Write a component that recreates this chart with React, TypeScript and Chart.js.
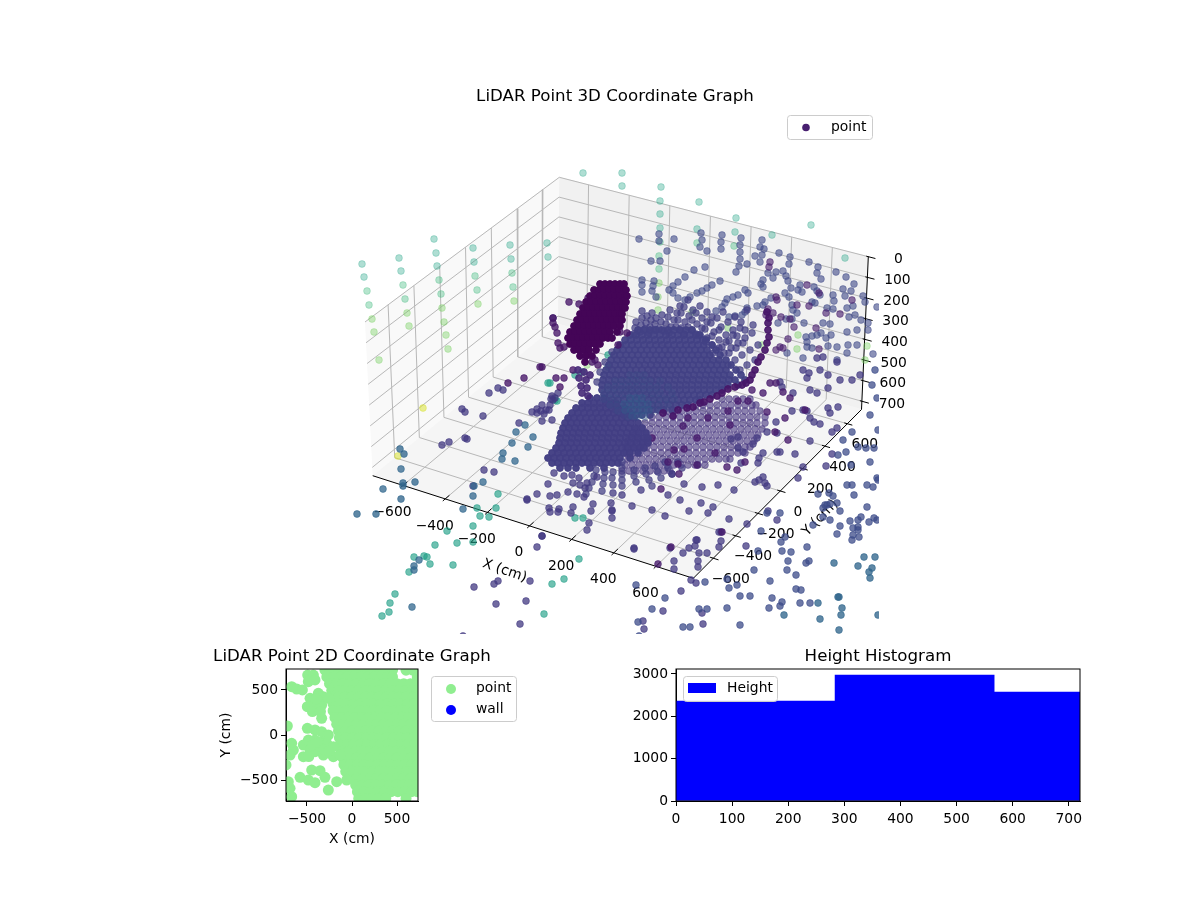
// App.tsx - LiDAR point graphs: 3D view, 2D plan and height histogram
import React, { useEffect, useRef } from 'react';
import { Chart, registerables } from 'chart.js';

Chart.register(...registerables);
Chart.defaults.font.family = '"DejaVu Sans", sans-serif';
Chart.defaults.color = '#000';

const TICK_FONT = 13.89;
const TITLE_FONT = 16.67;

// 3D axes, in cm
const xTicks3d = [-600, -400, -200, 0, 200, 400, 600];
const yTicks3d = [-600, -400, -200, 0, 200, 400, 600];
const hTicks3d = [0, 100, 200, 300, 400, 500, 600, 700];
const xRange3d = [-744, 777];
const yRange3d = [-779, 727];
const hRange3d = [0, 740];

// the box corners on the view plane, which is what the 3D chart's two scales measure
const topLeftBack = [365, 322];
const topBack = [559.3, 177.3];
const topRight = [868.3, 256.7];
const topFront = [674, 401];
const floorLeft = [372.7, 475.7];
const floorBack = [558, 324];
const floorRight = [861.5, 409.5];
const floorFront = [693.3, 578.3];

const wallTeal = [583,173, 622,173, 622,186, 661,187, 660,201, 660,214, 699,202, 736,218, 772,235, 811,225, 845,258,
  362,264, 364,277, 399,258, 401,271, 434,239, 436,253, 437,266, 473,248, 474,262, 510,245, 511,259, 547,243, 548,257, 660,228, 697,229, 735,232];
const wallGreen = [367,291, 369,305, 403,285, 405,299, 439,280, 441,294, 475,276, 477,290, 512,273, 513,287, 660,242, 659,256, 659,269, 697,243, 734,246];
const wallLime = [372,319, 374,332, 407,313, 409,326, 442,308, 444,322, 446,335, 448,349, 478,304, 514,301, 379,360,
  659,283, 658,297, 658,310, 692,312, 728,328, 798,335, 797,349, 867,346, 865,360, 762,345, 587,365];
const wallYellow = [423,408, 398,456];

const farSlate = [639,239, 659,234, 659,241, 674,239, 667,251, 651,261, 660,261, 701,233, 702,240, 700,247, 707,251,
  722,235, 721,242, 721,249, 741,238, 740,245, 740,252, 740,259, 739,266, 736,272, 747,264, 762,240, 760,247, 764,249, 762,255, 755,256, 760,262,
  779,253, 790,257, 789,264, 768,273, 773,278, 776,272, 783,271, 786,276, 788,281, 809,262, 818,267, 817,273, 821,279, 836,272, 846,277, 854,284, 843,289, 851,291,
  694,270, 705,267, 720,281, 685,277, 678,282, 673,286, 669,290, 712,285, 707,288, 702,291, 697,293, 690,297, 685,300, 678,298, 673,293,
  642,280, 642,285, 642,292, 654,281, 653,286, 652,291, 656,297, 745,290, 748,293, 738,295, 733,297, 727,299, 725,303, 722,307, 716,311, 761,284, 763,280, 763,287,
  800,285, 814,287, 817,291, 820,295, 802,292, 798,290, 791,288, 785,293, 789,297, 771,298, 765,302, 757,306, 763,305, 747,308, 745,312, 742,315, 735,316, 729,317,
  792,305, 793,310, 797,313, 812,302, 815,303, 827,308, 833,309, 833,295, 834,301, 845,296, 847,308, 853,306, 863,296, 865,302, 877,307, 855,315, 861,320, 868,323, 868,330, 849,317, 830,324, 823,323,
  804,323, 792,319, 786,319, 778,323, 847,332, 857,330, 817,335, 821,333, 812,336, 806,337, 807,342, 826,338, 831,335, 828,346, 837,347, 848,345, 847,353, 857,345, 873,354, 812,348, 807,347, 787,353, 803,358, 837,360];
const farPurple = [776,297, 777,300, 768,309, 773,313, 766,315, 790,319, 781,317, 794,327, 816,328, 797,305, 809,306, 819,349, 788,339, 780,347, 783,348, 776,350, 826,313, 840,314, 852,300, 819,293, 807,285, 770,262, 769,267];

const blobRows = [
  [284, 600,605,610,615,620,624], [290, 594,599,604,609,614,619,624,626], [296, 590,595,600,605,610,615,620,625,627], [302, 586,591,596,601,606,611,616,621,626],
  [308, 583,588,593,598,603,608,613,618,623,625], [314, 580,585,590,595,600,605,610,615,620,622], [320, 577,582,587,592,597,602,607,612,617,622], [326, 574,579,584,589,594,599,604,609,614,620],
  [332, 570,575,580,585,590,595,600,605,610,617], [338, 568,573,578,583,588,593,598,603,608,612], [344, 570,575,580,585,590,595,600], [350, 574,579,584,589,596], [356, 580,586,592], [362, 585],
];
const blobEdge = [569,302, 579,304, 588,298, 553,318, 553,323, 555,327, 557,333, 558,343, 560,348, 564,347, 620,332, 627,333, 618,345, 598,365, 595,360, 592,362, 573,370, 564,378, 556,378, 560,387, 542,367, 540,367, 524,378, 508,383];
const ridge = [767,312, 769,318, 768,323, 768,330, 769,337, 767,343, 765,350, 761,357, 758,362, 755,370, 752,375, 750,380, 746,383, 742,385, 735,387, 728,389, 722,393, 717,396, 710,399, 704,402, 700,403, 693,407, 687,408, 678,410, 673,416, 663,413];
const stem = [578,370, 584,372, 590,375, 579,378, 586,380, 581,386, 587,388, 582,393, 588,396];

const lowerFanRows = [
  [399, 722,729,736,743,750],
  [405, 696,703,710,717,724,731,738,745,752,756],
  [411, 668,675,682,689,696,703,710,717,724,731,738,745,752,760],
  [417, 652,659,666,673,680,687,694,701,708,715,722,729,736,743,750,757,765],
  [423, 645,652,659,666,673,680,687,694,701,708,715,722,729,736,743,750,757,765],
  [429, 636,643,650,657,664,671,678,685,692,699,706,713,720,727,734,741,748,755,762],
  [435, 632,639,646,653,660,667,674,681,688,695,702,709,716,723,730,737,744,751,758],
  [441, 628,635,642,649,656,663,670,677,684,691,698,705,712,719,726,733,740,747,754],
  [447, 626,633,640,647,654,661,668,675,682,689,696,703,710,717,724,731,738,745,750],
  [453, 626,633,640,647,654,661,668,675,682,689,696,703,710,717,724,731,738,745],
  [459, 628,635,642,649,656,663,670,677,684,691,698,705,712,719,726,730],
  [465, 625,632,639,646,653,660,667,674,681,688,695,705],
  [471, 622,629,636,643,650,657,664,670],
];
const mainFanRows = [
  [330, 638,644,650,656,662,668,674,680,686,692],
  [335, 630,636,642,648,654,660,666,672,678,684,690,696,700],
  [340, 625,631,637,643,649,655,661,667,673,679,685,691,697,703,706],
  [345, 620,626,632,638,644,650,656,662,668,674,680,686,692,698,704,712],
  [350, 617,623,629,635,641,647,653,659,665,671,677,683,689,695,701,707,716],
  [355, 614,620,626,632,638,644,650,656,662,668,674,680,686,692,698,704,710,720],
  [360, 611,617,623,629,635,641,647,653,659,665,671,677,683,689,695,701,707,713,719,726],
  [365, 609,615,621,627,633,639,645,651,657,663,669,675,681,687,693,699,705,711,717,723,731],
  [370, 606,612,618,624,630,636,642,648,654,660,666,672,678,684,690,696,702,708,714,720,726,736],
  [375, 604,610,616,622,628,634,640,646,652,658,664,670,676,682,688,694,700,706,712,718,724,730,741],
  [380, 603,609,615,621,627,633,639,645,651,657,663,669,675,681,687,693,699,705,711,717,723,729,735,745],
  [385, 602,608,614,620,626,632,638,644,650,656,662,668,674,680,686,692,698,704,710,716,722,728,738],
  [390, 602,608,614,620,626,632,638,644,650,656,662,668,674,680,686,692,698,704,710,716,722],
  [395, 604,610,616,622,628,634,640,646,652,658,664,670,676,682,688,694,700,706,712],
  [400, 606,612,618,624,630,636,642,648,654,660,666,672,678,684,690,696,700],
  [405, 610,616,622,628,634,640,646,652,658,664,670,676,682,688],
  [410, 616,622,628,634,640,646,652,658,664,672],
  [415, 624,630,636,642,650],
];
const coreOuterRows = [
  [375, 630,637,644], [381, 615,622,629,636,643,650,660], [387, 608,615,622,629,636,643,650,657,668], [393, 604,611,618,625,632,639,646,653,660,672],
  [399, 603,610,617,624,631,638,645,652,659,666,674], [405, 610,617,624,631,638,645,652,659,668], [411, 618,625,632,639,646,653,660], [417, 628,636,645],
];
const coreInnerRows = [
  [398, 630,636,642], [404, 624,630,636,642,648], [410, 625,631,637,643,649], [416, 632,638,644],
];
const secondFanRows = [
  [398, 590,597,604],
  [403, 582,588,594,600,606,612,616],
  [408, 576,582,588,594,600,606,612,618,624],
  [413, 572,578,584,590,596,602,608,614,620,626,630],
  [418, 568,574,580,586,592,598,604,610,616,622,628,634],
  [423, 565,571,577,583,589,595,601,607,613,619,625,631,638],
  [428, 563,569,575,581,587,593,599,605,611,617,623,629,635,642],
  [433, 561,567,573,579,585,591,597,603,609,615,621,627,633,639,646],
  [438, 560,566,572,578,584,590,596,602,608,614,620,626,632,638,644,648],
  [443, 559,565,571,577,583,589,595,601,607,613,619,625,631,637,643,648],
  [448, 556,562,568,574,580,586,592,598,604,610,616,622,628,634,640,644],
  [453, 552,558,564,570,576,582,588,594,600,606,612,618,624,630,638],
  [458, 548,554,560,566,572,578,584,590,596,602,608,614,620,630],
  [463, 552,558,564,570,576,582,588,594,600,606,612,618],
  [468, 560,568,576,590,604],
];
const fanFingers = [642,311, 642,318, 641,325, 640,332, 652,313, 651,320, 650,327, 649,333, 662,315, 661,322, 659,329,
  670,310, 668,317, 666,324, 664,331, 680,306, 677,313, 674,320, 671,327, 669,333, 688,300, 684,307, 681,313, 678,320, 676,327,
  700,306, 696,313, 692,320, 688,327, 684,334, 707,312, 702,318, 697,324, 692,330, 723,312, 717,318, 711,323, 705,329, 699,335,
  735,317, 728,322, 721,327, 714,332, 707,338, 747,310, 741,322, 733,330, 726,335, 719,340, 712,345, 753,325, 745,330, 737,336, 729,341, 722,347, 743,343, 736,348, 729,353,
  636,322, 635,328, 634,334, 647,316, 646,323, 645,329, 656,318, 655,324, 654,330, 693,310, 689,316, 685,322, 681,328, 712,317, 707,322, 702,328, 696,334, 719,330, 712,336, 706,342,
  740,328, 733,335, 726,342, 719,348, 713,353, 752,333, 745,338, 738,343, 731,348, 724,353, 758,345, 750,350, 742,355, 735,360, 728,365, 755,360, 747,365, 740,370,
  612,352, 605,362, 600,372, 597,382, 596,470, 594,476, 592,482, 589,488, 586,494, 605,472, 604,478, 603,484, 602,491, 613,472, 612,478, 613,485, 622,462, 622,468, 622,474, 622,480, 622,486,
  634,470, 634,476, 636,482, 645,468, 646,474, 649,480, 652,486, 655,466, 658,472, 661,478, 665,462, 668,468, 672,474, 678,462, 682,468];

const floorIndigo = [498,388, 503,390, 489,393, 462,409, 465,412, 483,416, 519,423, 465,438, 467,439, 449,442, 442,445, 484,470, 494,472, 473,486,
  532,412, 537,413, 541,411, 546,410, 550,405, 553,400, 555,398, 549,410, 544,414, 537,409, 552,396, 558,393, 551,399, 542,405, 542,421, 552,420,
  553,318, 527,499, 537,494, 550,496, 557,495, 548,484, 577,494, 584,497, 580,485, 587,483, 597,477, 564,476, 554,473, 572,475, 579,478, 585,488, 568,492, 573,483,
  549,508, 559,509, 550,512, 558,512, 571,513, 573,507, 612,511, 612,518, 593,504, 611,503, 527,500, 589,523, 587,530, 591,511, 542,536, 537,547,
  632,506, 652,510, 665,516, 689,511, 708,513, 713,507, 701,503, 680,500, 668,495, 641,490, 622,495, 613,493, 612,510, 684,484, 702,487, 718,485, 734,490, 721,532, 729,519, 747,524, 670,548, 696,540, 634,548,
  755,482, 759,480, 765,483, 767,486, 763,477, 741,463, 759,458, 758,463, 698,465, 672,474, 777,452, 780,452, 763,453, 795,454, 810,441, 753,444, 743,452, 738,448, 731,439, 738,437, 757,438,
  767,432, 777,433, 776,422, 810,418, 814,422, 820,424, 832,432, 837,428, 792,411, 803,410, 807,411, 828,408, 838,407, 830,413,
  837,362, 820,370, 817,358, 823,357, 803,370, 809,373, 840,380, 828,375, 852,380, 860,375, 817,393, 810,390, 828,388, 793,393, 782,387, 780,382, 807,378,
  798,478, 803,467, 826,466, 832,454,
  683,553, 689,548, 695,546, 697,540, 699,553, 707,553, 698,561, 698,567, 674,561, 674,569, 634,549, 719,532, 721,541, 719,547, 768,511, 777,520, 746,546, 681,591, 691,580, 696,583,
  474,587, 494,584, 498,581, 530,581, 526,601, 496,604, 520,624, 463,636, 542,536, 663,611, 644,629, 643,621, 702,613, 703,624];
const floorDark = [790,398, 805,410, 783,392, 785,418, 775,432, 788,440, 730,425, 697,438, 652,438, 737,470, 715,453, 674,450, 684,449, 668,462, 678,464, 697,465, 727,467, 679,474, 661,489, 745,462,
  738,401, 748,401, 728,411, 708,418, 688,418, 683,426, 767,412, 763,393, 752,390, 671,547, 658,564, 722,532, 776,383, 770,383];
const outsideBlue = [636,585, 665,598, 652,609, 699,609, 707,609, 727,608, 638,622, 683,627, 690,627, 740,625, 639,636, 705,582, 727,579, 729,588, 737,585, 740,596, 750,596, 754,570, 770,581,
  761,531, 785,537, 781,542, 782,551, 758,551, 791,552, 807,547, 788,561, 809,561, 806,563, 787,570, 796,575, 772,598, 782,602, 780,606, 769,608, 796,589, 801,590, 800,603, 810,603,
  847,485, 852,485, 867,485, 829,493, 833,496, 818,494, 854,495, 837,503, 827,505, 823,508, 780,513, 767,513, 837,534, 859,537, 850,521, 858,520, 869,522, 877,520, 867,507, 858,530, 853,535, 878,480, 873,487,
  875,370, 872,385, 877,398, 870,415, 878,430, 874,448, 870,462, 877,478, 866,448, 852,432, 843,440, 858,447, 838,455, 846,452, 851,465,
  825,505, 830,504, 840,511, 830,520, 823,517, 813,525, 840,526, 853,528, 858,527, 861,517, 852,540, 874,518];
const steelBlue = [818,603, 784,615, 820,619, 838,597, 839,597, 842,608, 841,615, 839,630, 858,566, 870,578, 872,568, 869,572, 875,557, 864,557, 834,563, 878,615, 357,514, 376,514, 403,483, 403,486, 401,499, 415,482, 404,454, 400,449];
const leftBlue = [463,509, 512,443, 516,432, 533,437, 528,447, 503,453, 502,459, 515,461, 474,486, 483,482, 401,469, 473,496, 383,489, 525,425, 419,560, 414,566, 414,570, 412,607];
const leftTeal = [477,508, 496,508, 480,516, 489,517, 473,526, 447,531, 435,545, 457,543, 473,542, 414,557, 424,556, 427,557, 409,572, 430,564, 453,565, 395,594, 390,603, 389,612, 382,616,
  552,584, 564,579, 544,614, 579,559, 575,518, 583,518, 498,494, 575,375, 582,372, 608,355, 608,367, 548,383, 555,400, 550,383, 557,401];

// 2D plan, in cm
const planTicks = [-500, 0, 500];
const planRange = [-733, 733];
const planEdge = [-492,666, -429,666, -485,592, -411,611, -670,537, -614,511, -551,500, -466,407, -374,463, -318,426, -411,333, -496,315, -337,333, -337,185, -263,407,
  -718,100, -496,74, -411,56, -337,37, -263,0, -670,-93, -651,-167, -688,-222, -540,-111, -485,-56, -411,-56, -337,-74, -540,-241, -466,-167, -374,-130, -281,-93, -207,-130, -207,-241, -133,-222, -318,-222, -411,-185,
  -448,-389, -355,-396, -577,-470, -485,-500, -411,-529, -300,-470, -263,-611, -170,-518, -59,-500, -733,-333, -707,-518, -688,-592, -670,-685,
  -440,-110, -380,-80, -310,-160, -260,-180, -480,-240, -450,380, -400,400, -440,260, -350,260];
const planRows = [
  [720, -300,-225,-150,-75,0,75,150,225,300,375,450,600,675],
  [645, -280,-205,-130,-55,20,95,170,245,320,395,450,725],
  [570, -250,-175,-100,-25,50,125,200,275,350,425,500,575,650,725],
  [495, -225,-150,-75,0,75,150,225,300,375,450,525,600,675,725],
  [420, -225,-150,-75,0,75,150,225,300,375,450,525,600,675,725],
  [345, -210,-135,-60,15,90,165,240,315,390,465,540,615,690],
  [270, -210,-135,-60,15,90,165,240,315,390,465,540,615,690],
  [195, -190,-115,-40,35,110,185,260,335,410,485,560,635,710],
  [120, -170,-95,-20,55,130,205,280,355,430,505,580,655,725],
  [45, -150,-75,0,75,150,225,300,375,450,525,600,675,725],
  [-30, -140,-65,10,85,160,235,310,385,460,535,610,685],
  [-105, -130,-55,20,95,170,245,320,395,470,545,620,695],
  [-180, -110,-35,40,115,190,265,340,415,490,565,640,715],
  [-255, -100,-25,50,125,200,275,350,425,500,575,650,725],
  [-330, -90,-15,60,135,210,285,360,435,510,585,660,725],
  [-405, -70,5,80,155,230,305,380,455,530,605,680,725],
  [-480, -20,55,130,205,280,355,430,505,580,655,725],
  [-555, 40,115,190,265,340,415,490,565,640,715],
  [-630, 60,135,210,285,360,435,510,585,660,725],
  [-705, 75,150,225,300,375,600],
];

// histogram
const binEdges = [0, 283.5, 567, 850.5];
const binCounts = [2362, 2976, 2575];
const histXTicks = [0, 100, 200, 300, 400, 500, 600, 700];
const histYTicks = [0, 1000, 2000, 3000];
const histXMax = 720;
const histYMax = 3118;

const viridis = ['#440154', '#482475', '#414487', '#355f8d', '#2a788e', '#21918c', '#22a884', '#44bf70', '#7ad151', '#bddf26', '#fde725'];

const shade = (t: number, alpha: number) => {
  const p = t * 10;
  const i = Math.min(9, Math.floor(p));
  const c = (s: string, k: number) => parseInt(s.substr(k, 2), 16);
  const mix = (k: number) => Math.round(c(viridis[i], k) + (c(viridis[i + 1], k) - c(viridis[i], k)) * (p - i));
  return `rgba(${mix(1)},${mix(3)},${mix(5)},${alpha})`;
};

const fromPairs = (flat: number[]) => {
  const out = [];
  for (let i = 0; i < flat.length; i += 2) out.push({ x: flat[i], y: flat[i + 1] });
  return out;
};
const fromRows = (rows: number[][]) => rows.flatMap(([y, ...xs]) => xs.map((x) => ({ x, y })));

const lerp = (a: number[], b: number[], t: number) => [a[0] + (b[0] - a[0]) * t, a[1] + (b[1] - a[1]) * t];

// X, Y, H in cm to the view plane
const project = (x: number, y: number, h: number) => {
  const tx = (x - xRange3d[0]) / (xRange3d[1] - xRange3d[0]);
  const ty = (y - yRange3d[0]) / (yRange3d[1] - yRange3d[0]);
  const th = (h - hRange3d[0]) / (hRange3d[1] - hRange3d[0]);
  const top = lerp(lerp(topLeftBack, topFront, tx), lerp(topBack, topRight, tx), ty);
  const floor = lerp(lerp(floorLeft, floorFront, tx), lerp(floorBack, floorRight, tx), ty);
  const p = lerp(top, floor, th);
  return { x: p[0], y: p[1] };
};

const [xLo, xHi] = xRange3d;
const [yLo, yHi] = yRange3d;
const [hLo, hHi] = hRange3d;
const gap = { x: NaN, y: NaN };

const gridLines = () => {
  const pts: { x: number; y: number }[] = [];
  xTicks3d.forEach((x) => pts.push(project(x, yHi, hLo), project(x, yHi, hHi), project(x, yLo, hHi), gap));
  yTicks3d.forEach((y) => pts.push(project(xLo, y, hLo), project(xLo, y, hHi), project(xHi, y, hHi), gap));
  hTicks3d.forEach((h) => pts.push(project(xLo, yLo, h), project(xLo, yHi, h), project(xHi, yHi, h), gap));
  return pts;
};

const axisLines = () => {
  const pts: { x: number; y: number }[] = [project(xLo, yLo, hHi), project(xHi, yLo, hHi), project(xHi, yHi, hHi), project(xHi, yHi, hLo), gap];
  xTicks3d.forEach((x) => pts.push(project(x, yLo - 20, hHi), project(x, yLo + 35, hHi), gap));
  yTicks3d.forEach((y) => pts.push(project(xHi - 15, y, hHi), project(xHi + 25, y, hHi), gap));
  hTicks3d.forEach((h) => pts.push(project(xHi - 10, yHi, h), project(xHi + 35, yHi, h), gap));
  return pts;
};

const pane = (corners: { x: number; y: number }[], color: string) => ({
  type: 'scatter' as const, data: corners, showLine: true, fill: 'shape', backgroundColor: color,
  borderColor: color, borderWidth: 1, pointRadius: 0, tension: 0, clip: 0,
});

const band = (data: { x: number; y: number }[], t: number, alpha: number, edge = 0.75) => ({
  label: 'point', data, backgroundColor: shade(t, alpha), borderColor: shade(t, alpha * edge),
  pointRadius: 3.4, pointBorderWidth: 1, clip: 0,
});

const legendBox = (ctx: CanvasRenderingContext2D, x: number, y: number, w: number, h: number) => {
  ctx.beginPath();
  ctx.roundRect(x, y, w, h, 3);
  ctx.fillStyle = 'rgba(255,255,255,0.8)';
  ctx.fill();
  ctx.strokeStyle = '#ccc';
  ctx.lineWidth = 1;
  ctx.stroke();
};

const legendText = (ctx: CanvasRenderingContext2D, text: string, x: number, y: number) => {
  ctx.font = `${TICK_FONT}px "DejaVu Sans"`;
  ctx.fillStyle = '#000';
  ctx.textAlign = 'left';
  ctx.textBaseline = 'middle';
  ctx.fillText(text, x, y);
};

const legendDot = (ctx: CanvasRenderingContext2D, x: number, y: number, r: number, color: string) => {
  ctx.beginPath();
  ctx.arc(x, y, r, 0, Math.PI * 2);
  ctx.fillStyle = color;
  ctx.fill();
};

const frame = {
  id: 'frame',
  afterDatasetsDraw(chart: Chart) {
    const { ctx, chartArea: a } = chart;
    ctx.save();
    ctx.strokeStyle = '#000';
    ctx.lineWidth = 1;
    ctx.strokeRect(a.left, a.top, a.right - a.left, a.bottom - a.top);
    ctx.restore();
  },
};

// the titles run wider than their plots, so they are centred on the plot here
const plotTitle = (text: string) => ({
  id: 'plotTitle',
  afterDraw(chart: Chart) {
    const { ctx, chartArea: a } = chart;
    ctx.save();
    ctx.font = `${TITLE_FONT}px "DejaVu Sans"`;
    ctx.fillStyle = '#000';
    ctx.textAlign = 'center';
    ctx.textBaseline = 'middle';
    ctx.fillText(text, (a.left + a.right) / 2, 17);
    ctx.restore();
  },
});

const minus = (v: number | string) => String(v).replace('-', '\u2212');

const labels3d = {
  id: 'labels3d',
  beforeDatasetsDraw(chart: Chart) {
    const { ctx, scales } = chart;
    const put = (text: string, p: { x: number; y: number }, dx: number, dy: number, rot = 0) => {
      ctx.save();
      ctx.translate(scales.x.getPixelForValue(p.x + dx), scales.y.getPixelForValue(p.y + dy));
      ctx.rotate(rot);
      ctx.font = `${TICK_FONT}px "DejaVu Sans"`;
      ctx.fillStyle = '#000';
      ctx.textAlign = 'center';
      ctx.textBaseline = 'middle';
      ctx.fillText(text, 0, 0);
      ctx.restore();
    };
    xTicks3d.forEach((x) => put(minus(x), project(x, yLo, hHi), -10.5, 27));
    yTicks3d.forEach((y) => put(minus(y), project(xHi, y, hHi), 17.5, 21));
    hTicks3d.forEach((h) => put(String(h), project(xHi, yHi, h), 30, 3));
    put('X (cm)', project(0, yLo, hHi), -25, 45, 0.33);
    put('Y (cm)', project(xHi, 0, hHi), 40, 27, -0.8);
    put('H (cm)', project(xHi, yHi, 330), 57, 0, -Math.PI / 2);
  },
  afterDraw(chart: Chart) {
    const { ctx } = chart;
    // canvas starts at page (315, 80)
    legendBox(ctx, 472.5, 35.5, 85, 24);
    legendDot(ctx, 491, 47.5, 3.8, '#481f70');
    legendText(ctx, 'point', 516, 47);
  },
};

const legendPlan = {
  id: 'legendPlan',
  afterDraw(chart: Chart) {
    const { ctx } = chart;
    // canvas starts at page (162, 640)
    legendBox(ctx, 269.5, 36.5, 85, 45);
    legendDot(ctx, 289, 49, 5, '#90ee90');
    legendText(ctx, 'point', 314, 48.5);
    legendDot(ctx, 289, 70, 5, '#0000ff');
    legendText(ctx, 'wall', 314, 69.5);
  },
};

const legendHist = {
  id: 'legendHist',
  afterDraw(chart: Chart) {
    const { ctx } = chart;
    // canvas starts at page (620, 640)
    legendBox(ctx, 63.5, 36.5, 94, 25);
    ctx.fillStyle = '#0000ff';
    ctx.fillRect(68, 43, 28, 10);
    legendText(ctx, 'Height', 107, 48.5);
  },
};

const useChart = (make: (c: HTMLCanvasElement) => Chart) => {
  const ref = useRef<HTMLCanvasElement | null>(null);
  useEffect(() => {
    if (!ref.current) return;
    const chart = make(ref.current);
    return () => chart.destroy();
  }, []);
  return ref;
};

const canvasStyle = (left: number, top: number, width: number, height: number) => ({
  position: 'absolute' as const, left, top, width, height,
});

const axisOpts = (min: number, max: number, values: number[], size: number, prop: 'width' | 'height', title?: string) => ({
  type: 'linear' as const, min, max,
  afterBuildTicks: (scale: any) => { scale.ticks = values.map((value) => ({ value })); },
  afterFit: (scale: any) => { scale[prop] = size; },
  ticks: { callback: (v: any) => minus(v), font: { size: TICK_FONT }, color: '#000', padding: prop === 'height' ? 5 : 3, maxRotation: 0, autoSkip: false },
  grid: { drawOnChartArea: false, color: '#000', tickLength: 5, lineWidth: 1, offset: false },
  border: { color: '#000', width: 1 },
  title: title ? { display: true, text: title, color: '#000', font: { size: TICK_FONT }, padding: { top: 2, bottom: 2 } } : { display: false },
});

const View3D = () => {
  const ref = useChart((c) => new Chart(c, {
    type: 'scatter',
    data: {
      // first in the list is painted last
      datasets: ([
        pane([project(xLo, yLo, hLo), project(xLo, yHi, hLo), project(xLo, yHi, hHi), project(xLo, yLo, hHi)], '#f9f9f9'),
        pane([project(xLo, yHi, hLo), project(xHi, yHi, hLo), project(xHi, yHi, hHi), project(xLo, yHi, hHi)], '#f1f1f1'),
        pane([project(xLo, yLo, hHi), project(xHi, yLo, hHi), project(xHi, yHi, hHi), project(xLo, yHi, hHi)], '#f5f5f5'),
        { data: gridLines(), showLine: true, borderColor: '#b8b8b8', borderWidth: 1, pointRadius: 0, tension: 0, clip: 0 },
        { data: axisLines(), showLine: true, borderColor: '#000', borderWidth: 1, pointRadius: 0, tension: 0, clip: 0 },
        band(fromPairs(wallTeal), 0.58, 0.36),
        band(fromPairs(wallGreen), 0.66, 0.36),
        band(fromPairs(wallLime), 0.78, 0.38),
        band(fromPairs(wallYellow), 0.94, 0.5),
        band(fromPairs(farSlate), 0.22, 0.6),
        band(fromPairs(farPurple), 0.08, 0.62),
        band(fromPairs(leftTeal), 0.56, 0.65),
        band(fromRows(lowerFanRows), 0.15, 0.6),
        band(fromPairs(fanFingers), 0.18, 0.72),
        band(fromPairs(floorIndigo), 0.17, 0.75),
        band(fromPairs(leftBlue), 0.33, 0.75),
        band(fromPairs(outsideBlue), 0.23, 0.75),
        band(fromPairs(steelBlue), 0.33, 0.78),
        band(fromPairs(floorDark), 0.07, 0.78),
        band(fromRows(secondFanRows), 0.18, 0.97, 1),
        band(fromRows(mainFanRows), 0.19, 0.95, 1),
        band(fromRows(coreOuterRows), 0.27, 0.16, 1),
        band(fromRows(coreInnerRows), 0.31, 0.28, 1),
        band(fromPairs(blobEdge), 0.06, 0.78),
        band(fromPairs(stem), 0.12, 0.9, 1),
        band(fromRows(blobRows), 0.01, 1, 1),
        band(fromPairs(ridge), 0.06, 0.92, 1),
      ] as any[]).reverse(),
    },
    options: {
      responsive: false,
      animation: false,
      events: [],
      layout: { autoPadding: false, padding: { left: 36, right: 36, top: 28, bottom: 0 } },
      scales: {
        x: { type: 'linear', display: false, min: 351, max: 879 },
        y: { type: 'linear', display: false, min: 108, max: 634, reverse: true },
      },
      plugins: { legend: { display: false }, tooltip: { enabled: false }, title: { display: false } },
    },
    plugins: [labels3d, plotTitle('LiDAR Point 3D Coordinate Graph')],
  } as any));
  return <canvas ref={ref} width={600} height={554} style={canvasStyle(315, 80, 600, 554)} />;
};

const Plan2D = () => {
  const ref = useChart((c) => new Chart(c, {
    type: 'scatter',
    data: {
      datasets: [
        { label: 'wall', data: [], backgroundColor: '#0000ff', pointRadius: 5 },
        { label: 'point', data: [...fromRows(planRows), ...fromPairs(planEdge)], backgroundColor: '#90ee90', pointRadius: 5.5, pointBorderWidth: 0, clip: 0 },
      ],
    },
    options: {
      responsive: false,
      animation: false,
      events: [],
      layout: { autoPadding: false, padding: { left: 54, right: 124, top: 29, bottom: 0 } },
      scales: {
        x: axisOpts(planRange[0], planRange[1], planTicks, 49, 'height', 'X (cm)'),
        y: axisOpts(planRange[0], planRange[1], planTicks, 70, 'width', 'Y (cm)'),
      },
      plugins: { legend: { display: false }, tooltip: { enabled: false }, title: { display: false } },
    },
    plugins: [frame, legendPlan, plotTitle('LiDAR Point 2D Coordinate Graph')],
  } as any));
  return <canvas ref={ref} width={380} height={210} style={canvasStyle(162, 640, 380, 210)} />;
};

const Histogram = () => {
  const ref = useChart((c) => new Chart(c, {
    type: 'bar',
    data: {
      datasets: [{
        label: 'Height',
        data: binCounts.map((y, i) => ({ x: (binEdges[i] + binEdges[i + 1]) / 2, y })),
        backgroundColor: '#0000ff',
        borderWidth: 0,
        barThickness: (binEdges[1] - binEdges[0]) * (404 / histXMax),
      }],
    },
    options: {
      responsive: false,
      animation: false,
      events: [],
      layout: { autoPadding: false, padding: { left: 6, right: 56, top: 29, bottom: 0 } },
      scales: {
        x: { ...axisOpts(0, histXMax, histXTicks, 30, 'height'), offset: false },
        y: axisOpts(0, histYMax, histYTicks, 50, 'width'),
      },
      plugins: { legend: { display: false }, tooltip: { enabled: false }, title: { display: false } },
    },
    plugins: [frame, legendHist, plotTitle('Height Histogram')],
  } as any));
  return <canvas ref={ref} width={516} height={191} style={canvasStyle(620, 640, 516, 191)} />;
};

export default function App() {
  return (
    <div>
      <View3D />
      <Plan2D />
      <Histogram />
    </div>
  );
}
